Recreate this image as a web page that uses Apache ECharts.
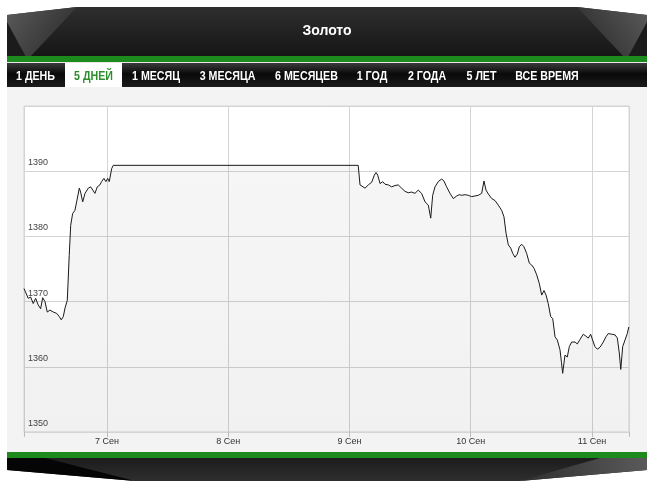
<!DOCTYPE html>
<html>
<head>
<meta charset="utf-8">
<script src="https://cdn.jsdelivr.net/npm/echarts@6/dist/echarts.min.js"></script>
<style>
html,body{margin:0;padding:0;background:#fff;}
#c{width:654px;height:483px;}
</style>
</head>
<body>
<div id="c"></div>
<script>
// Chart data (x = day of September, fractional; y = price)
const title = 'Золото';
const tabs = ['1 ДЕНЬ', '5 ДНЕЙ', '1 МЕСЯЦ', '3 МЕСЯЦА', '6 МЕСЯЦЕВ', '1 ГОД', '2 ГОДА', '5 ЛЕТ', 'ВСЕ ВРЕМЯ'];
const activeTab = 1;
const monthLabel = 'Сен';
const dayTicks = [7, 8, 9, 10, 11];
const yTicks = [1350, 1360, 1370, 1380, 1390, 1400];
const times = [
  6.316, 6.351, 6.371, 6.392, 6.412, 6.433, 6.453, 6.470, 6.489, 6.508, 6.530, 6.557, 6.585, 6.607, 6.623, 6.640,
  6.654, 6.673, 6.689, 6.701, 6.717, 6.736, 6.750, 6.772, 6.783, 6.800, 6.819, 6.846, 6.866, 6.882, 6.901, 6.920,
  6.942, 6.956, 6.975, 6.991, 7.006, 7.019, 7.039, 7.052, 9.072,
  9.087, 9.101, 9.128, 9.155, 9.183, 9.205, 9.219, 9.233, 9.252, 9.274, 9.293, 9.320, 9.348, 9.375, 9.402, 9.430,
  9.458, 9.485, 9.513, 9.540, 9.567, 9.595, 9.623, 9.650, 9.670, 9.686, 9.705, 9.732, 9.760, 9.779, 9.801, 9.829,
  9.856, 9.884, 9.905, 9.925, 9.952, 9.980, 10.008, 10.035, 10.062, 10.090, 10.109, 10.126, 10.145, 10.173, 10.200,
  10.227, 10.255, 10.274, 10.291, 10.310, 10.330, 10.346, 10.365, 10.384, 10.400, 10.420, 10.439, 10.461, 10.483,
  10.503, 10.522, 10.544, 10.565, 10.585, 10.604, 10.621, 10.639, 10.659, 10.676, 10.695, 10.714, 10.736, 10.748,
  10.758, 10.777, 10.796, 10.813, 10.832, 10.860, 10.879, 10.901, 10.928, 10.950, 10.969, 10.989, 11.005, 11.024,
  11.044, 11.066, 11.093, 11.115, 11.134, 11.162, 11.190, 11.209, 11.225, 11.237, 11.253, 11.272, 11.291, 11.303
];
const prices = [
  1372.0, 1370.5, 1370.7, 1369.7, 1370.5, 1369.5, 1368.9, 1370.6, 1370.0, 1368.4, 1368.7, 1368.4, 1368.2, 1367.7, 1367.2, 1367.7,
  1369.0, 1370.2, 1377.1, 1381.7, 1383.5, 1384.0, 1385.3, 1387.4, 1386.8, 1385.3, 1386.6, 1387.4, 1387.6, 1387.9, 1386.6, 1387.6,
  1387.9, 1388.4, 1388.9, 1388.4, 1388.9, 1388.4, 1390.4, 1390.9, 1390.9,
  1387.9, 1387.8, 1387.4, 1387.9, 1388.3, 1389.4, 1389.8, 1389.4, 1388.1, 1388.4, 1388.0, 1387.9, 1387.6, 1387.8, 1387.9, 1387.4,
  1386.9, 1386.7, 1386.8, 1386.6, 1387.1, 1386.6, 1385.3, 1384.8, 1382.8, 1386.3, 1387.6, 1388.4, 1388.8, 1388.5, 1387.6, 1386.6,
  1385.8, 1386.2, 1386.4, 1386.3, 1386.4, 1386.3, 1386.1, 1386.2, 1386.3, 1386.6, 1388.5, 1387.1, 1386.5, 1385.8, 1385.5,
  1384.8, 1384.0, 1383.0, 1380.5, 1378.7, 1378.2, 1377.4, 1376.8, 1377.3, 1378.4, 1378.8, 1378.4, 1377.4, 1375.9,
  1375.6, 1375.1, 1374.1, 1372.8, 1371.0, 1371.7, 1371.0, 1369.7, 1367.7, 1367.4, 1364.6, 1364.1, 1362.6, 1360.7,
  1359.0, 1361.8, 1361.5, 1363.1, 1363.8, 1363.8, 1363.5, 1364.2, 1365.0, 1364.7, 1364.4, 1365.0, 1364.1, 1363.1,
  1362.7, 1363.0, 1363.8, 1364.6, 1365.1, 1365.0, 1364.9, 1364.4, 1362.1, 1359.6, 1363.1, 1364.1, 1365.1, 1366.1
];
const xMin = 6.316, xMax = 11.305;

const seriesData = times.map((t, i) => [t, prices[i]]);

const tabCenters = [35.5, 93.5, 156, 227.5, 306.5, 372, 427, 481.5, 547];

const graphics = [];
// header dark band
graphics.push({type:'polygon', z:-20, shape:{points:[[7,15],[77,7],[577,7],[647,15],[647,57],[7,57]]},
  style:{fill:new echarts.graphic.LinearGradient(0,0,0,1,[{offset:0,color:'#2e2e2e'},{offset:1,color:'#151515'}])}});
// bevel faces
graphics.push({type:'polygon', z:-19, shape:{points:[[7,15],[77,7],[30,57],[7,57]]},
  style:{fill:new echarts.graphic.LinearGradient(0,0,1,1,[{offset:0,color:'#5a5a5a'},{offset:1,color:'#262626'}])}});
graphics.push({type:'polygon', z:-19, shape:{points:[[647,15],[577,7],[624,57],[647,57]]},
  style:{fill:new echarts.graphic.LinearGradient(1,0,0,1,[{offset:0,color:'#5a5a5a'},{offset:1,color:'#262626'}])}});
graphics.push({type:'polygon', z:-18, shape:{points:[[7,22],[26,57],[7,57]]}, style:{fill:'#1b1b1b'}});
graphics.push({type:'polygon', z:-18, shape:{points:[[647,22],[628,57],[647,57]]}, style:{fill:'#1b1b1b'}});
// green stripe top
graphics.push({type:'rect', z:-17, shape:{x:7,y:56,width:640,height:6}, style:{fill:'#1d8a1d'}});
graphics.push({type:'rect', z:-17, shape:{x:7,y:62,width:640,height:1}, style:{fill:'#e8e8e8'}});
// tab bar
graphics.push({type:'rect', z:-17, shape:{x:7,y:63,width:640,height:24},
  style:{fill:new echarts.graphic.LinearGradient(0,0,0,1,[{offset:0,color:'#3a3a3a'},{offset:0.45,color:'#0a0a0a'},{offset:1,color:'#1a1a1a'}])}});
graphics.push({type:'rect', z:-16, shape:{x:65,y:63,width:57,height:24}, style:{fill:'#ffffff'}});
tabs.forEach((t, i) => {
  graphics.push({type:'text', z:-15, x:tabCenters[i], y:76, scaleX:0.82,
    style:{text:t, fill: i === activeTab ? '#2c8f2c' : '#ffffff', font:"bold 13px 'Liberation Sans', Arial, sans-serif", textAlign:'center', textVerticalAlign:'middle'}});
});
// title
graphics.push({type:'text', z:-15, x:327, y:31,
  style:{text:title, fill:'#ffffff', font:"bold 14px 'Liberation Sans', Arial, sans-serif", textAlign:'center', textVerticalAlign:'middle'}});
// panel
graphics.push({type:'rect', z:-20, shape:{x:7,y:87,width:640,height:366}, style:{fill:'#f3f3f3'}});
// bottom stripe and footer
graphics.push({type:'rect', z:-17, shape:{x:7,y:452,width:640,height:6}, style:{fill:'#1d8a1d'}});
graphics.push({type:'polygon', z:-17, shape:{points:[[7,458],[647,458],[647,470],[520,481],[135,481],[7,470]]},
  style:{fill:new echarts.graphic.LinearGradient(0,0,0,1,[{offset:0,color:'#1c1c1c'},{offset:1,color:'#2e2e2e'}])}});
graphics.push({type:'polygon', z:-16, shape:{points:[[7,458],[45,458],[135,481],[7,470]]}, style:{fill:'#050505'}});
graphics.push({type:'polygon', z:-16, shape:{points:[[647,458],[600,458],[520,481],[647,470]]},
  style:{fill:new echarts.graphic.LinearGradient(1,0,0,0,[{offset:0,color:'#5a5a5a'},{offset:1,color:'#2e2e2e'}])}});

const chart = echarts.init(document.getElementById('c'), null, {renderer:'canvas'});
chart.setOption({
  backgroundColor:'#ffffff',
  animation:false,
  graphic: graphics,
  grid:{left:24, right:25, top:106, bottom:51, show:true, backgroundColor:'#ffffff', borderColor:'#d4d4d4', borderWidth:1},
  xAxis:{
    type:'value', min:xMin, max:xMax, minInterval:1, maxInterval:1,
    axisLine:{show:true, lineStyle:{color:'#d4d4d4'}},
    axisTick:{show:true, length:5, lineStyle:{color:'#bdbdbd'}},
    splitLine:{show:true, lineStyle:{color:'#d4d4d4'}},
    axisLabel:{
      color:'#333', fontSize:9, margin:5, fontFamily:"'Liberation Sans', Arial, sans-serif",
      customValues:dayTicks,
      formatter: v => Math.round(v) + ' ' + monthLabel
    }
  },
  yAxis:{
    type:'value', min:yTicks[0], max:yTicks[yTicks.length-1], interval:10,
    axisLine:{show:false}, axisTick:{show:false},
    splitLine:{show:true, lineStyle:{color:'#d4d4d4'}},
    axisLabel:{inside:true, margin:4, verticalAlign:'bottom', padding:[0,0,4,0], color:'#444', fontSize:9,
      fontFamily:"'Liberation Sans', Arial, sans-serif", showMaxLabel:false,
      formatter: v => yTicks.includes(v) && v !== yTicks[yTicks.length-1] ? String(v) : ''}
  },
  series:[{
    type:'line', data:seriesData, showSymbol:false, smooth:false,
    lineStyle:{color:'#1a1a1a', width:1},
    areaStyle:{color:new echarts.graphic.LinearGradient(0,0,0,1,[{offset:0,color:'rgba(0,0,0,0.05)'},{offset:1,color:'rgba(0,0,0,0.08)'}])},
    z:3
  }]
});
</script>
</body>
</html>
